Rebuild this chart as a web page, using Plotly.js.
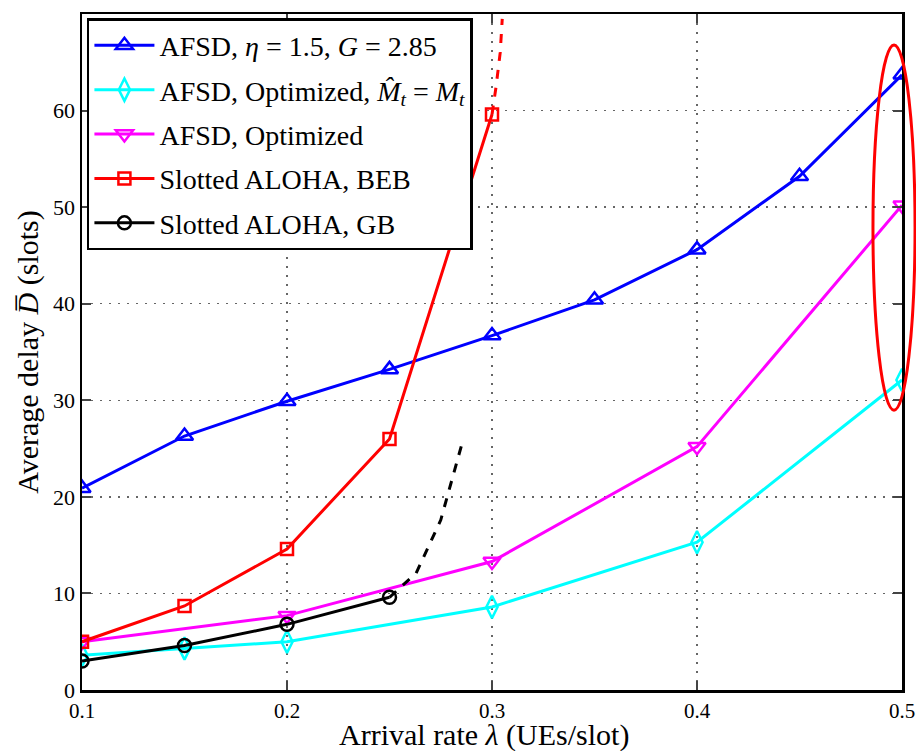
<!DOCTYPE html>
<html><head><meta charset="utf-8">
<script src="https://cdn.plot.ly/plotly-3.0.1.min.js"></script>
<style>html,body{margin:0;padding:0;background:#fff}#c{width:916px;height:751px}</style>
</head><body><div id="c"></div>
<script>
const xBlue = [0.1,0.15,0.2,0.25,0.3,0.35,0.4,0.45,0.5];
const yBlue = [20.9,26.3,29.9,33.2,36.7,40.4,45.6,53.2,63.7];
const xCyan = [0.1,0.15,0.2,0.3,0.4,0.5];
const yCyan = [3.6,4.3,5.0,8.6,15.3,32.1];
const xMag = [0.1,0.2,0.3,0.4,0.5];
const yMag = [5.0,7.7,13.3,25.2,50.2];
const xRed = [0.1,0.15,0.2,0.25,0.3];
const yRed = [5.0,8.7,14.6,26.0,59.6];
const xRedDash = [0.3,0.302,0.304,0.305];
const yRedDash = [59.6,62.5,66.0,69.5];
const xBlack = [0.1,0.15,0.2,0.25];
const yBlack = [3.0,4.6,6.8,9.6];
const xBlackDash = [0.25,0.263,0.275,0.286];
const yBlackDash = [9.6,12.1,17.6,26.0];
const xTicks = [0.1,0.2,0.3,0.4,0.5];
const yTicks = [0,10,20,30,40,50,60];

const names = [
  'AFSD, <i>η</i> = 1.5, <i>G</i> = 2.85',
  'AFSD, Optimized, <i>M̂</i><sub><i>t</i></sub> = <i>M</i><sub><i>t</i></sub>',
  'AFSD, Optimized',
  'Slotted ALOHA, BEB',
  'Slotted ALOHA, GB'
];
const xTitle = 'Arrival rate <i>λ</i> (UEs/slot)';
const yTitle = 'Average delay <i>D̅</i> (slots)';
const FAM = 'Liberation Serif, DejaVu Serif, serif';
function tr(x,y,name,color,symbol,g,size){
  return {x:x,y:y,name:name,type:'scatter',mode:'lines+markers',legendgroup:g,
    line:{color:color,width:3},
    marker:{symbol:symbol,size:size||15,color:color,line:{color:color,width:2.5}}};
}
const data = [
  tr(xBlue,yBlue,names[0],'#0000ff','triangle-up-open','a'),
  tr(xCyan,yCyan,names[1],'#00ffff','diamond-tall-open','b',16),
  tr(xMag,yMag,names[2],'#ff00ff','triangle-down-open','c'),
  {x:xRedDash,y:yRedDash,type:'scatter',mode:'lines',showlegend:false,line:{color:'#ff0000',width:3,dash:'dash'},hoverinfo:'skip'},
  tr(xRed,yRed,names[3],'#ff0000','square-open','d',12),
  {x:xBlackDash,y:yBlackDash,type:'scatter',mode:'lines',showlegend:false,line:{color:'#000',width:3,dash:'dash'},hoverinfo:'skip'},
  tr(xBlack,yBlack,names[4],'#000000','circle-open','e',13)
];
const layout = {
  width:916,height:751,
  margin:{l:82,r:14,t:14,b:61},
  paper_bgcolor:'#fff',plot_bgcolor:'#fff',
  font:{family:FAM,color:'#000'},
  showlegend:true,
  xaxis:{range:[0.1,0.5],tickvals:xTicks,ticktext:xTicks.map(v=>v.toFixed(1)),
    showgrid:true,gridcolor:'#666',griddash:'2px,7px',gridwidth:1.5,
    showline:true,linecolor:'#000',linewidth:2.5,mirror:'ticks',ticks:'inside',ticklen:9,tickwidth:2,
    zeroline:false,tickfont:{size:21,family:FAM},ticklabeloverflow:'allow',automargin:false},
  yaxis:{range:[0,70],tickvals:yTicks,
    showgrid:true,gridcolor:'#666',griddash:'2px,7px',gridwidth:1.5,
    showline:true,linecolor:'#000',linewidth:2.5,mirror:'ticks',ticks:'inside',ticklen:9,tickwidth:2,
    zeroline:false,tickfont:{size:22,family:FAM},automargin:false,
    title:{text:yTitle,font:{size:30,family:FAM},standoff:6}},
  legend:{x:0.006,y:0.994,xanchor:'left',yanchor:'top',bgcolor:'#fff',bordercolor:'#000',borderwidth:2.5,
    font:{size:28,family:FAM},tracegroupgap:5,itemwidth:60},
  annotations:[{text:xTitle,xref:'paper',yref:'paper',x:0.49,y:-0.094,xanchor:'center',yanchor:'bottom',
    showarrow:false,font:{size:30,family:FAM,color:'#000'}}],
  shapes:[{type:'circle',xref:'paper',yref:'paper',x0:0.9646,x1:1.0159,y0:0.414,y1:0.954,
    line:{color:'#ff0000',width:3}}]
};
Plotly.newPlot('c',data,layout,{displayModeBar:false,staticPlot:true});
</script></body></html>
